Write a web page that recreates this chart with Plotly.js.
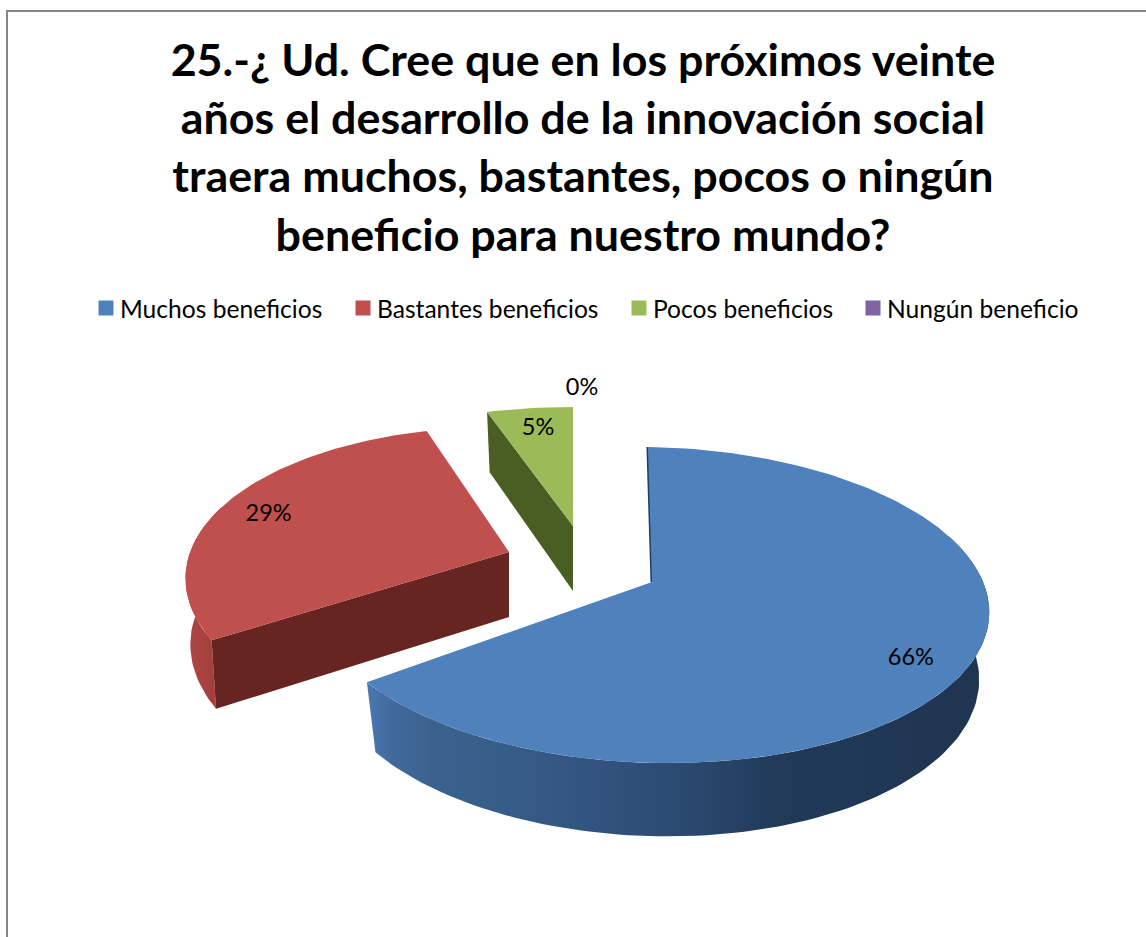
<!DOCTYPE html>
<html>
<head>
<meta charset="utf-8">
<script src="https://cdn.plot.ly/plotly-3.0.1.min.js"></script>
<style>html,body{margin:0;padding:0;background:#fff}#chart{width:1146px;height:937px}</style>
</head>
<body>
<div id="chart"></div>
<script>
// ---- data ----
const chartTitle = "25.-¿ Ud. Cree que en los próximos veinte<br>años el desarrollo de la innovación social<br>traera muchos, bastantes, pocos o ningún<br>beneficio para nuestro mundo?";
const categories = ["Muchos beneficios", "Bastantes beneficios", "Pocos beneficios", "Nungún beneficio"];
const percents = [66, 29, 5, 0];

// ---- styling ----
const colors = ["#4f81bd", "#c0504d", "#9bbb59", "#8064a2"];
const cutColors = ["#1f3d66", "#672521", "#4a5e24", "#3f3151"];
const FONT = "Lato, Carlito, Calibri, sans-serif";
// 3-D look of each exploded slice (pixel space of the hidden axes)
const look = [
  {cx:652, cy:582, rx:333, ry:154.6, k:0.1456, skewX:0.03, skewY:0.015, drop:66, bottomSX:0.97, startTrim:0, endTrim:5.6, labelR:0.82, labelDx:3, labelDy:8},
  {cx:509, cy:552, rx:317, ry:150,   k:0.2,    skewX:0,    skewY:0.015, drop:65, bottomSX:0.985, startTrim:-1, endTrim:0,  labelR:0.86, labelDx:2, labelDy:8},
  {cx:573, cy:526, rx:331, ry:142.8, k:0.2,    skewX:0,    skewY:0,    drop:65, bottomSX:0.97, startTrim:0, endTrim:0,   labelR:0.83, labelDx:2, labelDy:4},
  {cx:573, cy:526, rx:331, ry:142.8, k:0.2,    skewX:0,    skewY:0,    drop:65, bottomSX:0.97, startTrim:0, endTrim:0,   labelR:1.16, labelDx:9, labelDy:-2}
];
const bottomSY = 1.04;

function project(g, deg, r, bottom) {
  const t = deg * Math.PI / 180;
  const u = Math.sin(t) * r, v = -Math.cos(t) * r;
  const w = 1 - g.k * v;
  let dx = g.rx * u / w, dy = g.ry * v / w;
  dx += g.skewX * dy; dy += g.skewY * dx;
  if (bottom) { dx *= g.bottomSX; dy = dy * bottomSY + g.drop; }
  return [g.cx + dx, g.cy + dy];
}
function arc(g, a, b, bottom) {
  const n = Math.max(2, Math.ceil(Math.abs(b - a) / 1.5));
  const out = [];
  for (let i = 0; i <= n; i++) out.push(project(g, a + (b - a) * i / n, 1, bottom));
  return out;
}
function poly(pts, color, extra) {
  return Object.assign({
    type: "scatter", mode: "lines", x: pts.map(p => p[0]), y: pts.map(p => p[1]),
    fill: "toself", fillcolor: color, line: {width: 0, color: color},
    hoverinfo: "skip", showlegend: false
  }, extra || {});
}

// slice angles come from the values
const total = percents.reduce((a, b) => a + b, 0);
let acc = 0;
const slices = percents.map((p, i) => {
  const a0 = acc / total * 360; acc += p;
  const a1 = acc / total * 360;
  return {a0: a0 + look[i].startTrim, a1, end: a1 - look[i].endTrim, mid: (a0 + a1) / 2, g: look[i]};
});

const traces = [];
// green slice (back)
(function () {
  const s = slices[2], g = s.g;
  traces.push(poly([project(g, s.a0, 1), project(g, s.a0, 0), project(g, s.a0, 0, true), project(g, s.a0, 1, true), project(g, s.a0, 1)], cutColors[2]));
  traces.push(poly([project(g, s.a0, 0)].concat(arc(g, s.a0, s.a1)).concat([project(g, s.a0, 0)]), colors[2]));
})();
// red slice
(function () {
  const s = slices[1], g = s.g;
  const rim = arc(g, s.a0, s.a0 + 50), low = arc(g, s.a0, s.a0 + 50, true).reverse();
  traces.push(poly(rim.concat(low), "#a8423f", {
    fillgradient: {type: "horizontal", start: 185, stop: 235, colorscale: [[0, "#b04744"], [1, "#983a37"]]}
  }));
  traces.push(poly([project(g, s.a0, 1), project(g, s.a0, 0), project(g, s.a0, 0, true), project(g, s.a0, 1, true), project(g, s.a0, 1)], cutColors[1]));
  traces.push(poly([project(g, s.a0, 0)].concat(arc(g, s.a0, s.a1)).concat([project(g, s.a0, 0)]), colors[1]));
})();
// blue slice (front)
(function () {
  const s = slices[0], g = s.g;
  const rim = arc(g, 70, s.end), low = arc(g, 70, s.end, true).reverse();
  traces.push(poly(rim.concat(low), "#2f5280", {
    fillgradient: {type: "horizontal", start: 368, stop: 989, colorscale: [
      [0, "#4a78b0"], [0.04, "#41699b"], [0.1, "#3b628f"], [0.3, "#345883"], [0.5, "#2b4a72"], [0.66, "#213a5a"], [1, "#1f3450"]
    ]}
  }));
  traces.push({type: "scatter", mode: "lines",
    x: [project(g, s.a0, 1)[0], project(g, s.a0, 0)[0]], y: [project(g, s.a0, 1)[1], project(g, s.a0, 0)[1]],
    line: {color: cutColors[0], width: 3}, hoverinfo: "skip", showlegend: false});
  traces.push(poly([project(g, s.a0, 0)].concat(arc(g, s.a0, s.end)).concat([project(g, s.a0, 0)]), colors[0]));
})();

// data labels
const labelPts = slices.map(s => {
  const p = project(s.g, s.mid, s.g.labelR);
  return [p[0] + s.g.labelDx, p[1] + s.g.labelDy];
});
traces.push({type: "scatter", mode: "text", x: labelPts.map(p => p[0]), y: labelPts.map(p => p[1]),
  text: percents.map(p => p + "%"), textposition: "middle center",
  textfont: {family: FONT, size: 23.5, color: "#000"}, hoverinfo: "skip", showlegend: false, cliponaxis: false});

// legend entries, each in its own native legend so the gaps can follow the reference
const legendNames = ["legend", "legend2", "legend3", "legend4"];
const legendLeft = [80, 337, 613, 847];
categories.forEach((c, i) => {
  traces.push({type: "scatter", mode: "markers", x: [null], y: [null], name: c,
    marker: {symbol: "square", size: 15, color: colors[i]}, legend: legendNames[i], showlegend: true});
});

const layout = {
  width: 1146, height: 937, autosize: false,
  margin: {l: 0, r: 0, t: 0, b: 0},
  paper_bgcolor: "#fff", plot_bgcolor: "#fff",
  font: {family: FONT, color: "#000"},
  title: {text: chartTitle, font: {family: FONT, size: 44.8, weight: 700, color: "#000"},
    x: 583 / 1146, xanchor: "center", xref: "paper", y: 1 - 76 / 937, yanchor: "middle"},
  xaxis: {range: [0, 1146], visible: false, fixedrange: true},
  yaxis: {range: [937, 0], visible: false, fixedrange: true},
  shapes: [
    {type: "line", xref: "x", yref: "y", x0: 7, x1: 7, y0: 10, y1: 937, line: {color: "#868686", width: 2}},
    {type: "line", xref: "x", yref: "y", x0: 6, x1: 1146, y0: 11, y1: 11, line: {color: "#868686", width: 2}}
  ]
};
legendNames.forEach((n, i) => {
  layout[n] = {orientation: "h", x: legendLeft[i] / 1146, xanchor: "left", y: 1 - 308 / 937, yanchor: "middle",
    bgcolor: "rgba(0,0,0,0)", font: {family: FONT, size: 24.6, color: "#000"}};
});

Plotly.newPlot("chart", traces, layout, {displayModeBar: false, staticPlot: true}).then(function () {
  // the reference keeps its swatches closer to the legend text
  document.querySelectorAll("#chart .legendsymbols").forEach(function (el) {
    el.setAttribute("transform", "translate(6,0)");
  });
});
</script>
</body>
</html>
